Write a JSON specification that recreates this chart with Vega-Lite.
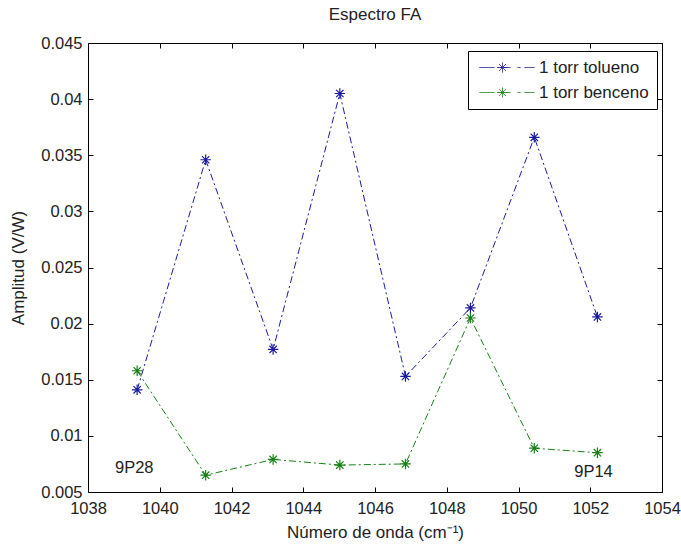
{
  "$schema": "https://vega.github.io/schema/vega-lite/v6.json",
  "width": 574,
  "height": 449,
  "autosize": "none",
  "padding": {"left": 88, "top": 43, "right": 19, "bottom": 53},
  "background": "white",
  "title": {"text": "Espectro FA", "fontSize": 17, "font": "Liberation Sans", "fontWeight": "normal", "color": "#222", "offset": 11},
  "config": {
    "view": {"stroke": null},
    "font": "Liberation Sans",
    "axis": {
      "domainColor": "#000",
      "tickColor": "#000",
      "tickSize": -5,
      "grid": false,
      "labelFont": "Liberation Sans",
      "labelFontSize": 16.5,
      "labelColor": "#222",
      "labelFlush": false,
      "labelOverlap": false,
      "titleFont": "Liberation Sans",
      "titleFontSize": 17,
      "titleFontWeight": "normal",
      "titleColor": "#222"
    },
    "legend": {
      "symbolType": "M-1,0H2M2.6,0H5.2M6.6,0H7.2M8,0H10M3.6,-1V1M2.6,0H4.6M2.9,-0.7L4.3,0.7M2.9,0.7L4.3,-0.7",
      "symbolSize": 100,
      "symbolStrokeWidth": 1,
      "symbolFillColor": "transparent",
      "symbolDash": [1, 0],
      "labelFont": "Liberation Sans",
      "labelFontSize": 17,
      "labelColor": "#222",
      "labelOffset": 46,
      "rowPadding": 7,
      "padding": 8,
      "strokeColor": "#000",
      "fillColor": "#fff",
      "cornerRadius": 0
    }
  },
  "datasets": {
    "series": [
      {"onda": 1039.37, "amp": 0.0141, "serie": "1 torr tolueno"},
      {"onda": 1041.28, "amp": 0.0346, "serie": "1 torr tolueno"},
      {"onda": 1043.16, "amp": 0.0177, "serie": "1 torr tolueno"},
      {"onda": 1045.02, "amp": 0.0405, "serie": "1 torr tolueno"},
      {"onda": 1046.85, "amp": 0.0153, "serie": "1 torr tolueno"},
      {"onda": 1048.66, "amp": 0.0214, "serie": "1 torr tolueno"},
      {"onda": 1050.44, "amp": 0.0366, "serie": "1 torr tolueno"},
      {"onda": 1052.2, "amp": 0.0206, "serie": "1 torr tolueno"},
      {"onda": 1039.37, "amp": 0.0158, "serie": "1 torr benceno"},
      {"onda": 1041.28, "amp": 0.0065, "serie": "1 torr benceno"},
      {"onda": 1043.16, "amp": 0.0079, "serie": "1 torr benceno"},
      {"onda": 1045.02, "amp": 0.0074, "serie": "1 torr benceno"},
      {"onda": 1046.85, "amp": 0.0075, "serie": "1 torr benceno"},
      {"onda": 1048.66, "amp": 0.0205, "serie": "1 torr benceno"},
      {"onda": 1050.44, "amp": 0.0089, "serie": "1 torr benceno"},
      {"onda": 1052.2, "amp": 0.0085, "serie": "1 torr benceno"}
    ],
    "etiquetas": [
      {"onda": 1039.29, "amp": 0.00717, "texto": "9P28"},
      {"onda": 1052.09, "amp": 0.00681, "texto": "9P14"}
    ]
  },
  "layer": [
    {
      "data": {"name": "series"},
      "mark": {"type": "line", "strokeWidth": 1, "strokeDash": [7, 3, 2, 3]},
      "encoding": {
        "x": {"field": "onda", "type": "quantitative", "scale": {"domain": [1038, 1054], "nice": false, "zero": false},
              "axis": {"orient": "bottom", "title": "Número de onda (cm⁻¹)", "values": [1038, 1040, 1042, 1044, 1046, 1048, 1050, 1052, 1054], "format": "d", "labelPadding": 13, "titlePadding": 8}},
        "y": {"field": "amp", "type": "quantitative", "scale": {"domain": [0.005, 0.045], "nice": false, "zero": false},
              "axis": {"orient": "left", "title": "Amplitud (V/W)", "values": [0.005, 0.01, 0.015, 0.02, 0.025, 0.03, 0.035, 0.04, 0.045], "format": ".3~f", "labelPadding": 11, "titlePadding": 13}},
        "color": {"field": "serie", "type": "nominal", "scale": {"domain": ["1 torr tolueno", "1 torr benceno"], "range": ["#1c1ca0", "#168016"]},
                  "legend": {"title": null, "orient": "none", "legendX": 380, "legendY": 8}},
        "order": {"field": "onda", "type": "quantitative"}
      }
    },
    {
      "data": {"name": "series"},
      "mark": {"type": "point", "shape": "M0,-1V1M-1,0H1M-0.7,-0.7L0.7,0.7M-0.7,0.7L0.7,-0.7", "filled": false, "size": 110, "strokeWidth": 1.2, "opacity": 1},
      "encoding": {
        "x": {"field": "onda", "type": "quantitative", "axis": null},
        "y": {"field": "amp", "type": "quantitative", "axis": null},
        "color": {"field": "serie", "type": "nominal",
                  "legend": {"title": null, "orient": "none", "legendX": 380, "legendY": 8}}
      }
    },
    {
      "data": {"name": "etiquetas"},
      "mark": {"type": "text", "fontSize": 16.5, "font": "Liberation Sans", "color": "#222", "align": "center", "baseline": "middle"},
      "encoding": {
        "x": {"field": "onda", "type": "quantitative",
              "axis": {"orient": "top", "labels": false, "title": null, "values": [1038, 1040, 1042, 1044, 1046, 1048, 1050, 1052, 1054]}},
        "y": {"field": "amp", "type": "quantitative",
              "axis": {"orient": "right", "labels": false, "title": null, "values": [0.005, 0.01, 0.015, 0.02, 0.025, 0.03, 0.035, 0.04, 0.045]}},
        "text": {"field": "texto"}
      }
    }
  ],
  "resolve": {"axis": {"x": "independent", "y": "independent"}}
}
